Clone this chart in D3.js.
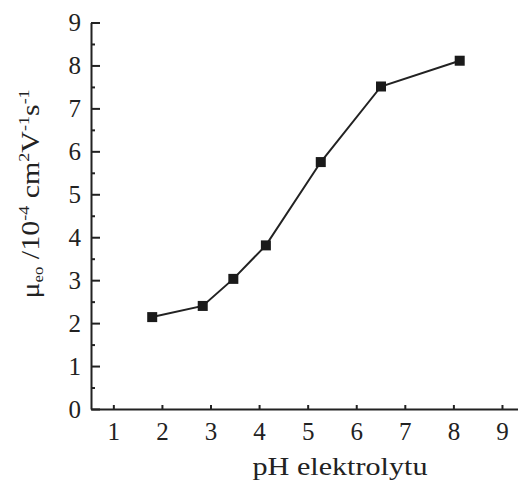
<!DOCTYPE html>
<html>
<head>
<meta charset="utf-8">
<script src="https://cdn.jsdelivr.net/npm/d3@7"></script>
<style>
  body { margin: 0; background: #fff; }
</style>
</head>
<body>
<svg width="518" height="484"></svg>
<script>
// pH of the electrolyte vs. electroosmotic mobility (10^-4 cm2 V-1 s-1)
var ph = [1.80, 2.84, 3.47, 4.14, 5.27, 6.51, 8.13];
var mu = [2.14, 2.40, 3.03, 3.81, 5.75, 7.51, 8.11];
var xTicks = [1, 2, 3, 4, 5, 6, 7, 8, 9];
var yTicks = [0, 1, 2, 3, 4, 5, 6, 7, 8, 9];
var yMinor = [0.5, 1.5, 2.5, 3.5, 4.5, 5.5, 6.5, 7.5, 8.5];

var svg = d3.select('svg');
var ink = '#222';
var font = "'Liberation Serif', serif";

var x = d3.scaleLinear().domain([0.54, 9.33]).range([91, 518]);
var y = d3.scaleLinear().domain([0, 9]).range([409, 22.5]);

var points = ph.map(function(d, i) { return { ph: d, mu: mu[i] }; });

// y axis, ticks point inward
svg.append('g')
    .attr('transform', 'translate(' + x.range()[0] + ',0)')
    .call(d3.axisLeft(y).tickValues(yTicks).tickSize(-9).tickSizeOuter(0).tickPadding(10));

svg.append('g')
    .attr('transform', 'translate(' + x.range()[0] + ',0)')
    .call(d3.axisLeft(y).tickValues(yMinor).tickSize(-4).tickFormat(''))
    .select('.domain').remove();

svg.append('g')
    .attr('transform', 'translate(0,' + y(0) + ')')
    .call(d3.axisBottom(x).tickValues(xTicks).tickSize(-4).tickSizeOuter(0).tickPadding(13));

svg.selectAll('.domain').attr('stroke', ink).attr('stroke-width', 2);
svg.selectAll('.tick line').attr('stroke', ink).attr('stroke-width', 2);
svg.selectAll('.tick text')
    .attr('font-family', font)
    .attr('font-size', 25)
    .attr('fill', ink);

// data line and square markers
var line = d3.line()
    .x(function(d) { return x(d.ph); })
    .y(function(d) { return y(d.mu); });

svg.append('path')
    .datum(points)
    .attr('d', line)
    .attr('fill', 'none')
    .attr('stroke', ink)
    .attr('stroke-width', 2);

var m = 10;
svg.selectAll('rect.pt')
    .data(points).enter()
    .append('rect')
    .attr('class', 'pt')
    .attr('x', function(d) { return x(d.ph) - m / 2; })
    .attr('y', function(d) { return y(d.mu) - m / 2; })
    .attr('width', m)
    .attr('height', m)
    .attr('fill', '#1a1a1a');

// axis titles
svg.append('text')
    .attr('x', 340)
    .attr('y', 475)
    .attr('text-anchor', 'middle')
    .attr('font-family', font)
    .attr('font-size', 25)
    .attr('fill', ink)
    .attr('textLength', 175)
    .attr('lengthAdjust', 'spacingAndGlyphs')
    .text('pH elektrolytu');

var yl = svg.append('text')
    .attr('transform', 'translate(39,194) rotate(-90) scale(1.2,1)')
    .attr('text-anchor', 'middle')
    .attr('font-family', font)
    .attr('font-size', 25)
    .attr('fill', ink);
yl.append('tspan').text('μ');
yl.append('tspan').attr('font-size', 14).attr('dy', 4).text('eo');
yl.append('tspan').attr('dy', -4).text(' /10');
yl.append('tspan').attr('font-size', 15).attr('dy', -10).text('-4');
yl.append('tspan').attr('dy', 10).text(' cm');
yl.append('tspan').attr('font-size', 15).attr('dy', -10).text('2');
yl.append('tspan').attr('dy', 10).text('V');
yl.append('tspan').attr('font-size', 15).attr('dy', -10).text('-1');
yl.append('tspan').attr('dy', 10).text('s');
yl.append('tspan').attr('font-size', 15).attr('dy', -10).text('-1');
</script>
</body>
</html>
